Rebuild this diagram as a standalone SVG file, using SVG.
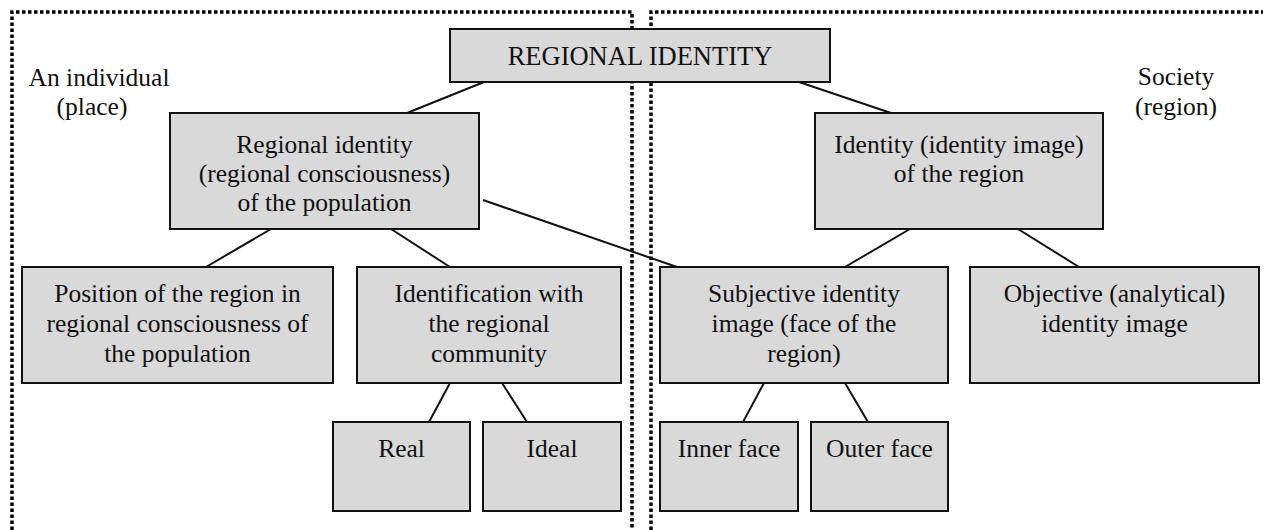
<svg xmlns="http://www.w3.org/2000/svg" width="1263" height="530" viewBox="0 0 1263 530">
<style>
.box{fill:#d9d9d9;stroke:#111;stroke-width:2}
.t{font-family:"Liberation Serif","Times New Roman",serif;font-size:25.5px;fill:#111;text-anchor:middle}
.dot{fill:none;stroke:#000;stroke-width:3.5;stroke-dasharray:3.5 2.5}
.ln{stroke:#111;stroke-width:2;fill:none}
</style>
<rect width="1263" height="530" fill="#fff"/>
<g id="regions">
<path class="dot" d="M12,530 V12 H632 V530"/>
<path class="dot" d="M651,530 V12 H1263"/>
<text class="t" x="99" y="86">An individual</text>
<text class="t" x="92" y="115">(place)</text>
<text class="t" x="1176" y="85">Society</text>
<text class="t" x="1176" y="115">(region)</text>
</g>
<g id="connectors">
<line class="ln" x1="484" y1="82" x2="407" y2="113"/>
<line class="ln" x1="799" y1="82" x2="891" y2="113"/>
<line class="ln" x1="271" y1="229" x2="206" y2="267"/>
<line class="ln" x1="391" y1="229" x2="450" y2="267"/>
<line class="ln" x1="483" y1="200" x2="677" y2="267"/>
<line class="ln" x1="910" y1="229" x2="845" y2="267"/>
<line class="ln" x1="1018" y1="229" x2="1079" y2="267"/>
<line class="ln" x1="450" y1="383" x2="429" y2="422"/>
<line class="ln" x1="502" y1="383" x2="527" y2="422"/>
<line class="ln" x1="764" y1="383" x2="743" y2="422"/>
<line class="ln" x1="845" y1="383" x2="868" y2="422"/>
</g>
<g id="root">
<rect class="box" x="450" y="29" width="380" height="53"/>
<text class="t" x="640" y="65" style="font-size:26.5px">REGIONAL IDENTITY</text>
</g>
<g id="population">
<rect class="box" x="170" y="113" width="309" height="116"/>
<text class="t" x="324.5" y="153">Regional identity</text>
<text class="t" x="324.5" y="182">(regional consciousness)</text>
<text class="t" x="324.5" y="211">of the population</text>
</g>
<g id="region-identity">
<rect class="box" x="815" y="113" width="288" height="116"/>
<text class="t" x="959" y="153">Identity (identity image)</text>
<text class="t" x="959" y="182">of the region</text>
</g>
<g id="position">
<rect class="box" x="22" y="267" width="311" height="116"/>
<text class="t" x="177.5" y="302">Position of the region in</text>
<text class="t" x="177.5" y="332">regional consciousness of</text>
<text class="t" x="177.5" y="362">the population</text>
</g>
<g id="identification">
<rect class="box" x="357" y="267" width="264" height="116"/>
<text class="t" x="489" y="302">Identification with</text>
<text class="t" x="489" y="332">the regional</text>
<text class="t" x="489" y="362">community</text>
</g>
<g id="subjective">
<rect class="box" x="660" y="267" width="288" height="116"/>
<text class="t" x="804" y="302">Subjective identity</text>
<text class="t" x="804" y="332">image (face of the</text>
<text class="t" x="804" y="362">region)</text>
</g>
<g id="objective">
<rect class="box" x="970" y="267" width="289" height="116"/>
<text class="t" x="1114.5" y="302">Objective (analytical)</text>
<text class="t" x="1114.5" y="332">identity image</text>
</g>
<g id="real">
<rect class="box" x="333" y="422" width="137" height="89"/>
<text class="t" x="401.5" y="457">Real</text>
</g>
<g id="ideal">
<rect class="box" x="483" y="422" width="138" height="89"/>
<text class="t" x="552" y="457">Ideal</text>
</g>
<g id="inner">
<rect class="box" x="660" y="422" width="138" height="89"/>
<text class="t" x="729" y="457">Inner face</text>
</g>
<g id="outer">
<rect class="box" x="811" y="422" width="137" height="89"/>
<text class="t" x="879.5" y="457">Outer face</text>
</g>
</svg>
